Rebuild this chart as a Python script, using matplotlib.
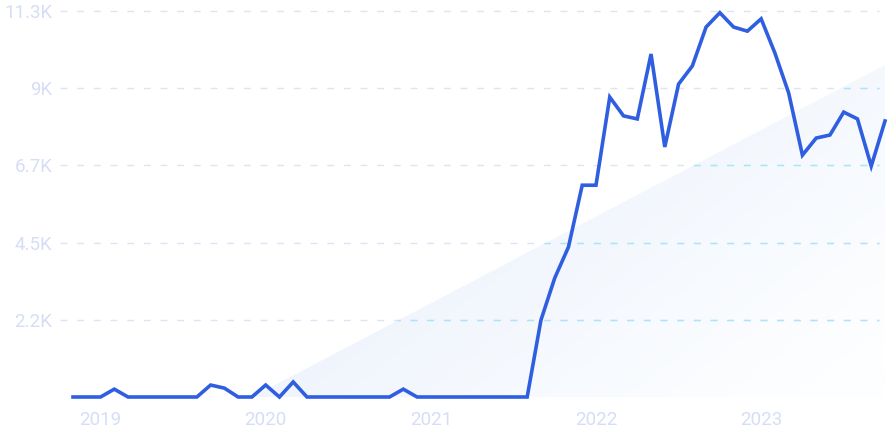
import numpy as np
import matplotlib
matplotlib.use("Agg")
import matplotlib.pyplot as plt
from matplotlib.patches import Polygon
from matplotlib.colors import to_rgb

# monthly search volume, Nov 2018 .. Oct 2023 (thousands)
values_k = [
    0, 0, 0, 0.23, 0, 0, 0, 0, 0, 0,
    0.35, 0.26, 0, 0, 0.35, 0, 0.44, 0, 0, 0,
    0, 0, 0, 0, 0.23, 0, 0, 0, 0, 0,
    0, 0, 0, 0, 2.25, 3.48, 4.39, 6.2, 6.2, 8.78,
    8.23, 8.14, 10.04, 7.32, 9.16, 9.69, 10.83, 11.25, 10.83, 10.71,
    11.07, 10.07, 8.9, 7.08, 7.58, 7.67, 8.34, 8.14, 6.76, 8.08,
]
year_pos = [2, 14, 26, 38, 50]
year_labels = ["2019", "2020", "2021", "2022", "2023"]
y_ticks = [2260, 4520, 6780, 9040, 11300]
y_labels = ["2.2K", "4.5K", "6.7K", "9K", "11.3K"]
trend_start = 13.0
trend_end_value = 9720

values = np.array(values_k) * 1000
x = np.arange(len(values))

W, H = 888, 443
fig = plt.figure(figsize=(W / 100, H / 100), dpi=100)
ax = fig.add_axes([73 / W, (H - 397) / H, 812 / W, 386 / H])
ax.set_xlim(0, len(values) - 1)
ax.set_ylim(0, 11300)
for s in ax.spines.values():
    s.set_visible(False)

label_col = "#d6def6"
font = ["Roboto", "DejaVu Sans"]

# trend triangle with gradient
tri = Polygon([[trend_start, 0], [x[-1], 0], [x[-1], trend_end_value]],
              closed=True, facecolor="none", edgecolor="none")
ax.add_patch(tri)
nx, ny = 300, 200
gx, gy = np.meshgrid(np.linspace(0, 1, nx), np.linspace(0, 1, ny))
t = np.clip(0.65 * gx + 0.45 * gy, 0, 1)  # gy=0 at top of image
c0 = np.array(to_rgb("#e5eefc"))
c1 = np.array(to_rgb("#fdfeff"))
img = c0[None, None, :] * (1 - t[..., None]) + c1[None, None, :] * t[..., None]
im = ax.imshow(img, extent=[trend_start, x[-1], 0, trend_end_value],
               aspect="auto", origin="upper", zorder=1, interpolation="bilinear")
im.set_clip_path(tri)

# dashed grid, cyan where it crosses the trend area
gx0, gx1 = (60 - 73) / 13.76, (879 - 73) / 13.76
ax.hlines(y_ticks, gx0, gx1, colors="#dde4f7", linestyles=(0, (5, 7)),
          linewidth=1, clip_on=False, zorder=2)
cy = ax.hlines(y_ticks, gx0, gx1, colors="#a9e5fb", linestyles=(0, (5, 7)),
               linewidth=1, zorder=2)
cy.set_clip_path(tri)

ax.plot(x, values, color="#2f5fe0", linewidth=2.6, solid_joinstyle="miter",
        clip_on=False, zorder=3)

ax.set_yticks(y_ticks, y_labels)
ax.set_xticks(year_pos, year_labels)
ax.tick_params(axis="both", length=0, labelcolor=label_col, labelsize=13.5)
ax.tick_params(axis="y", pad=15)
ax.tick_params(axis="x", pad=10)
for lab in ax.get_xticklabels() + ax.get_yticklabels():
    lab.set_family(font)

fig.savefig("out.png", dpi=100)
